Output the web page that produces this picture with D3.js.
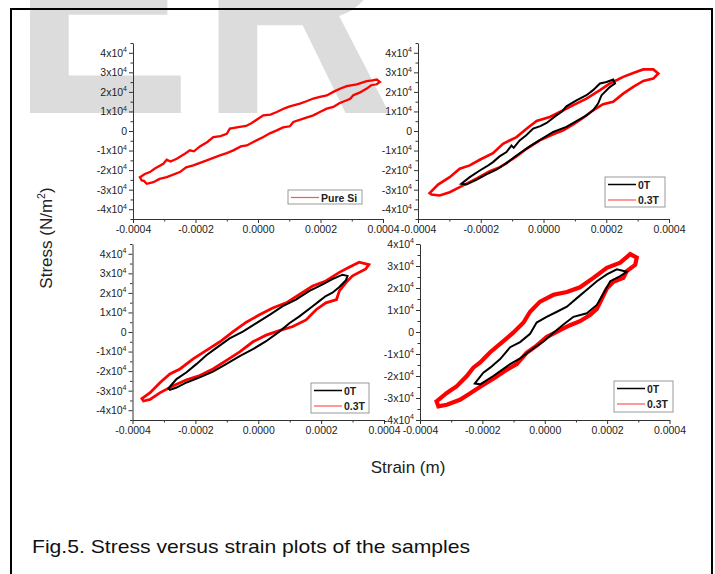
<!DOCTYPE html>
<html><head><meta charset="utf-8">
<script src="https://cdn.jsdelivr.net/npm/d3@7"></script>
<style>body{margin:0;background:#fff;} svg{display:block;font-family:"Liberation Sans",Arial,sans-serif;}</style>
</head><body>
<svg id="c" width="715" height="574"></svg>
<script>
// ---------- data ----------
const strainTicks = [-0.0004, -0.0002, 0, 0.0002, 0.0004];
const strainMinor = [-0.0003, -0.0001, 0.0001, 0.0003];
const stressTicks = [-40000, -30000, -20000, -10000, 0, 10000, 20000, 30000, 40000];
const stressMinor = [-45000, -35000, -25000, -15000, -5000, 5000, 15000, 25000, 35000, 45000];
const seriesNames = ["0T", "0.3T"];
const pureName = "Pure Si";

const pureSi = [[-3.78e-4,-23600],[-3.62e-4,-22000],[-3.46e-4,-21000],[-3.30e-4,-19200],[-3.03e-4,-16800],[-2.92e-4,-14700],[-2.80e-4,-15600],[-2.60e-4,-14200],[-2.34e-4,-11600],[-2.18e-4,-9900],[-2.05e-4,-10400],[-1.86e-4,-7900],[-1.62e-4,-5600],[-1.43e-4,-3100],[-1.20e-4,-2600],[-1.00e-4,-1400],[-0.90e-4,1200],[-0.58e-4,2100],[-0.38e-4,2600],[-0.20e-4,4100],[0.17e-4,8000],[0.40e-4,8400],[0.60e-4,9700],[0.85e-4,11600],[1.02e-4,12600],[1.34e-4,14000],[1.55e-4,15200],[1.77e-4,16600],[1.98e-4,17400],[2.20e-4,18200],[2.41e-4,20000],[2.62e-4,21600],[2.84e-4,22900],[3.16e-4,23900],[3.48e-4,25500],[3.66e-4,25900],[3.80e-4,26300],[3.90e-4,25100],
[3.80e-4,23900],[3.62e-4,23400],[3.48e-4,21700],[3.25e-4,19600],[3.05e-4,18300],[2.95e-4,16500],[2.84e-4,15700],[2.60e-4,14200],[2.41e-4,12300],[2.20e-4,11400],[1.98e-4,9700],[1.77e-4,8000],[1.45e-4,6300],[1.13e-4,4600],[1.02e-4,2400],[0.80e-4,1800],[0.60e-4,300],[0.38e-4,-1200],[0.17e-4,-3100],[-0.15e-4,-5600],[-0.36e-4,-7400],[-0.55e-4,-7900],[-0.79e-4,-9900],[-1.00e-4,-11300],[-1.22e-4,-12500],[-1.64e-4,-15000],[-2.07e-4,-17600],[-2.30e-4,-18600],[-2.50e-4,-21000],[-2.92e-4,-23600],[-3.15e-4,-24500],[-3.35e-4,-26200],[-3.56e-4,-27000],[-3.65e-4,-25500],[-3.72e-4,-25300]];

const tr0T = [[-2.62e-4,-27000],[-2.35e-4,-23600],[-2.03e-4,-20200],[-1.80e-4,-18000],[-1.61e-4,-15900],[-1.40e-4,-13000],[-1.18e-4,-10800],[-1.02e-4,-7400],[-0.95e-4,-8600],[-0.76e-4,-4800],[-0.55e-4,-2200],[-0.33e-4,1200],[-0.10e-4,2500],[0.10e-4,4100],[0.41e-4,8000],[0.60e-4,10100],[0.73e-4,12600],[1.05e-4,15700],[1.37e-4,18300],[1.58e-4,20900],[1.80e-4,24300],[2.01e-4,25100],[2.22e-4,26300],[2.28e-4,24300],
[2.12e-4,22600],[1.85e-4,18300],[1.74e-4,14000],[1.58e-4,10600],[1.37e-4,8000],[1.05e-4,5100],[0.73e-4,2100],[0.31e-4,-500],[0.01e-4,-3400],[-0.44e-4,-7900],[-0.86e-4,-12500],[-1.18e-4,-16400],[-1.50e-4,-19800],[-1.82e-4,-22200],[-2.14e-4,-25000],[-2.46e-4,-27400]];

const tr03T = [[-3.63e-4,-31800],[-3.36e-4,-27400],[-2.99e-4,-23600],[-2.67e-4,-19300],[-2.35e-4,-17600],[-2.03e-4,-14700],[-1.61e-4,-11300],[-1.29e-4,-6500],[-0.86e-4,-3100],[-0.54e-4,1200],[-0.22e-4,5100],[0.20e-4,7200],[0.52e-4,9700],[0.95e-4,13200],[1.37e-4,16600],[1.80e-4,20900],[2.12e-4,24300],[2.54e-4,27700],[2.86e-4,29700],[3.18e-4,31500],[3.50e-4,31500],[3.66e-4,29400],
[3.50e-4,26800],[3.18e-4,25600],[2.86e-4,22600],[2.54e-4,19100],[2.22e-4,14900],[1.90e-4,13700],[1.58e-4,10600],[1.27e-4,6800],[0.95e-4,3400],[0.63e-4,300],[0.31e-4,-1700],[-0.12e-4,-4800],[-0.54e-4,-9100],[-0.86e-4,-13000],[-1.18e-4,-16400],[-1.39e-4,-18500],[-1.71e-4,-20500],[-2.14e-4,-24400],[-2.67e-4,-28700],[-2.99e-4,-31300],[-3.31e-4,-33000],[-3.57e-4,-32500]];

const bl0T = [[-2.86e-4,-28900],[-2.60e-4,-24100],[-2.28e-4,-20600],[-1.96e-4,-16300],[-1.65e-4,-11900],[-1.33e-4,-8100],[-0.91e-4,-3300],[-0.49e-4,200],[-0.06e-4,4500],[0.36e-4,8800],[0.78e-4,13200],[1.20e-4,16600],[1.63e-4,21000],[2.05e-4,24400],[2.36e-4,27000],[2.68e-4,29300],[2.84e-4,28700],
[2.79e-4,26500],[2.58e-4,23000],[2.36e-4,20100],[2.15e-4,18400],[1.94e-4,15800],[1.73e-4,13200],[1.31e-4,8000],[0.99e-4,4500],[0.67e-4,200],[0.25e-4,-4700],[-0.17e-4,-8800],[-0.59e-4,-12300],[-1.01e-4,-16300],[-1.44e-4,-20300],[-1.86e-4,-23200],[-2.28e-4,-25800],[-2.60e-4,-28400],[-2.81e-4,-29600]];

const bl03T = [[-3.70e-4,-34100],[-3.44e-4,-31000],[-3.12e-4,-25800],[-2.81e-4,-21500],[-2.49e-4,-18900],[-2.07e-4,-13700],[-1.65e-4,-9400],[-1.22e-4,-5000],[-0.80e-4,200],[-0.38e-4,5000],[0.04e-4,8800],[0.46e-4,12300],[0.89e-4,14900],[1.31e-4,19200],[1.73e-4,23500],[2.15e-4,26100],[2.58e-4,30500],[2.89e-4,33100],[3.21e-4,35700],[3.52e-4,34500],
[3.42e-4,32200],[3.00e-4,28700],[2.79e-4,25300],[2.58e-4,21000],[2.49e-4,16600],[2.15e-4,14900],[1.84e-4,11400],[1.52e-4,6200],[1.10e-4,2800],[0.67e-4,700],[0.25e-4,-1600],[-0.17e-4,-5000],[-0.59e-4,-10200],[-1.01e-4,-14500],[-1.44e-4,-18900],[-1.86e-4,-22300],[-2.28e-4,-24400],[-2.70e-4,-27500],[-3.12e-4,-31000],[-3.44e-4,-34500],[-3.65e-4,-35300]];

const br0T = [[-2.24e-4,-23400],[-1.97e-4,-18500],[-1.75e-4,-16200],[-1.43e-4,-12300],[-1.11e-4,-6900],[-0.79e-4,-4600],[-0.47e-4,-800],[-0.26e-4,4300],[0.06e-4,6900],[0.39e-4,9200],[0.71e-4,11500],[1.03e-4,15400],[1.35e-4,19200],[1.67e-4,23100],[1.99e-4,26200],[2.31e-4,28500],[2.63e-4,27400],
[2.42e-4,25400],[2.10e-4,23100],[1.83e-4,16200],[1.67e-4,12300],[1.35e-4,8500],[0.92e-4,6900],[0.60e-4,3400],[0.28e-4,-300],[-0.04e-4,-4300],[-0.36e-4,-7400],[-0.79e-4,-12000],[-1.11e-4,-14600],[-1.65e-4,-20000],[-2.07e-4,-23800]];

const br03T = [[-3.47e-4,-31500],[-3.14e-4,-27700],[-2.82e-4,-24600],[-2.50e-4,-20000],[-2.29e-4,-16200],[-2.07e-4,-13800],[-1.75e-4,-9200],[-1.43e-4,-5400],[-1.01e-4,-300],[-0.68e-4,4300],[-0.47e-4,9200],[-0.15e-4,13800],[0.28e-4,16900],[0.71e-4,18200],[1.13e-4,20300],[1.56e-4,24600],[1.99e-4,29200],[2.42e-4,31500],[2.74e-4,35400],[2.95e-4,33800],
[2.90e-4,30500],[2.63e-4,27700],[2.52e-4,24600],[2.20e-4,22800],[1.99e-4,19700],[1.83e-4,15100],[1.67e-4,10500],[1.45e-4,7700],[1.13e-4,4900],[0.81e-4,3100],[0.49e-4,800],[0.06e-4,-2300],[-0.26e-4,-6200],[-0.58e-4,-9500],[-0.90e-4,-14600],[-1.22e-4,-17200],[-1.65e-4,-21200],[-2.07e-4,-24900],[-2.40e-4,-28000],[-2.72e-4,-30800],[-3.14e-4,-33100],[-3.41e-4,-33800]];

// ---------- drawing ----------
const svg = d3.select("#c");
svg.append("rect").attr("width",715).attr("height",574).attr("fill","#fff");

// watermark (behind everything)
svg.append("text").attr("transform","translate(12,113) scale(0.84,1.05)")
  .attr("font-size",320).attr("font-weight","bold").attr("letter-spacing",11).attr("fill","#dcdcdc")
  .text("ER");

// frame
svg.append("rect").attr("x",11).attr("y",9).attr("width",701).attr("height",620)
  .attr("fill","none").attr("stroke","#000").attr("stroke-width",2);

const panels = [
  {x0:133, x1:383, y0:219, y1:43, ymax:45000, series:[{d:pureSi,c:"#ff0000",w:2.3}], legend:[{n:pureName,c:"#ff5555",w:1.2}], lg:{x:288,y:190,w:74,h:14}},
  {x0:418, x1:669, y0:219, y1:43, ymax:45000, series:[{d:tr03T,c:"#ff0000",w:2.6},{d:tr0T,c:"#000",w:2}], legend:[{n:seriesNames[0],c:"#000",w:1.5},{n:seriesNames[1],c:"#ff5555",w:1.2}], lg:{x:605,y:177,w:60,h:30}},
  {x0:132.5, x1:384, y0:420, y1:244, ymax:45000, series:[{d:bl03T,c:"#ff0000",w:2.8},{d:bl0T,c:"#000",w:2}], legend:[{n:seriesNames[0],c:"#000",w:1.5},{n:seriesNames[1],c:"#ff5555",w:1.2}], lg:{x:311,y:383,w:58,h:30}},
  {x0:420, x1:669.5, y0:420, y1:244, ymax:40000, series:[{d:br03T,c:"#ff0000",w:4.2},{d:br0T,c:"#000",w:2}], legend:[{n:seriesNames[0],c:"#000",w:1.5},{n:seriesNames[1],c:"#ff5555",w:1.2}], lg:{x:614,y:381,w:59,h:31}}
];

function yLabel(sel){
  sel.each(function(d){
    const t = d3.select(this); t.text(null);
    if (d === 0) { t.text("0"); return; }
    t.append("tspan").text((d/10000) + "x10");
    t.append("tspan").attr("class","sup").attr("dy",-4.5).text("4");
  });
}

panels.forEach(p=>{
  const x = d3.scaleLinear().domain([-0.0004,0.0004]).range([p.x0,p.x1]);
  const y = d3.scaleLinear().domain([-p.ymax,p.ymax]).range([p.y0,p.y1]);
  const g = svg.append("g");

  const minorY = stressMinor.filter(v=>Math.abs(v)<=p.ymax);
  g.append("g").attr("transform",`translate(${p.x0},0)`)
    .call(d3.axisLeft(y).tickValues(minorY).tickSize(2.5).tickSizeOuter(0).tickFormat(""))
    .call(a=>{a.select(".domain").remove(); a.selectAll("text").remove();});
  g.append("g").attr("transform",`translate(0,${p.y0})`)
    .call(d3.axisBottom(x).tickValues(strainMinor).tickSize(2.5).tickSizeOuter(0).tickFormat(""))
    .call(a=>{a.select(".domain").remove(); a.selectAll("text").remove();});

  const ay = g.append("g").attr("transform",`translate(${p.x0},0)`)
    .call(d3.axisLeft(y).tickValues(stressTicks).tickSize(4).tickSizeOuter(0).tickPadding(2));
  ay.selectAll(".tick text").call(yLabel);
  g.append("g").attr("transform",`translate(0,${p.y0})`)
    .call(d3.axisBottom(x).tickValues(strainTicks).tickSize(4).tickSizeOuter(0).tickPadding(3)
      .tickFormat(d=>d.toFixed(4)));
  g.selectAll(".domain, .tick line").attr("stroke","#333");
  g.selectAll("text").attr("font-size",10.5).attr("font-family","Liberation Sans, Arial, sans-serif").attr("fill","#222");
  ay.selectAll("tspan.sup").attr("font-size",7);

  const line = d3.line().x(d=>x(d[0])).y(d=>y(d[1])).curve(d3.curveLinearClosed);
  p.series.forEach(s=>{
    g.append("path").datum(s.d).attr("d",line).attr("fill","none")
      .attr("stroke",s.c).attr("stroke-width",s.w).attr("stroke-linejoin","miter");
  });

  // legend
  const L = p.lg;
  const lg = g.append("g");
  lg.append("rect").attr("x",L.x).attr("y",L.y).attr("width",L.w).attr("height",L.h)
    .attr("fill","#fff").attr("stroke","#999").attr("stroke-width",1);
  p.legend.forEach((e,i)=>{
    const cy = L.y + 7.5 + i*15.5;
    lg.append("line").attr("x1",L.x+3).attr("x2",L.x+31).attr("y1",cy).attr("y2",cy)
      .attr("stroke",e.c).attr("stroke-width",e.w);
    lg.append("text").attr("x",L.x+33).attr("y",cy+4).attr("font-size",10.5)
      .attr("font-weight","bold").attr("fill","#222").text(e.n);
  });
});

// axis titles
svg.append("text").attr("transform","translate(52,238) rotate(-90)")
  .attr("text-anchor","middle").attr("font-size",17).attr("fill","#222")
  .call(t=>{ t.append("tspan").text("Stress (N/m");
             t.append("tspan").attr("font-size",10.5).attr("dy",-7).text("2");
             t.append("tspan").attr("dy",7).text(")"); });
svg.append("text").attr("x",408).attr("y",473).attr("text-anchor","middle")
  .attr("font-size",17).attr("fill","#222").text("Strain (m)");

// caption
svg.append("text").attr("x",32).attr("y",553).attr("font-size",19).attr("fill","#111")
  .attr("textLength",438).attr("lengthAdjust","spacingAndGlyphs")
  .text("Fig.5. Stress versus strain plots of the samples");
</script>
</body></html>
